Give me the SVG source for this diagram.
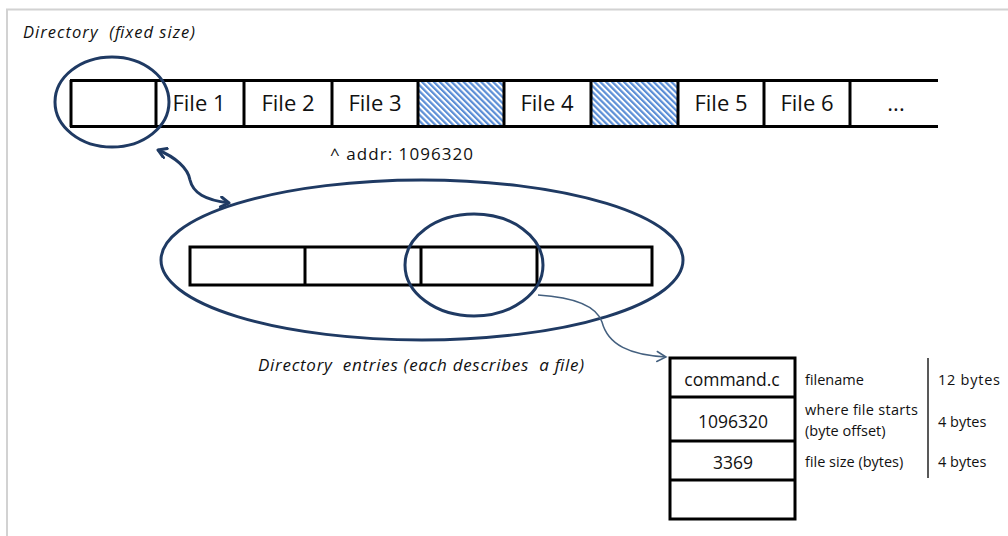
<svg xmlns="http://www.w3.org/2000/svg" width="1008" height="536" viewBox="0 0 1008 536">
<style>
.cal{font-family:"Open Sans","Liberation Sans",sans-serif;fill:#111;white-space:pre}
.it{font-style:italic}
.cell{fill:#fff;stroke:#000;stroke-width:3}
.ell{fill:none;stroke:#1f3a63;stroke-width:3}
</style>
<defs>
<pattern id="hatch" patternUnits="userSpaceOnUse" width="4.2" height="4.2" patternTransform="rotate(-45)">
<rect width="4.2" height="4.2" fill="#fff"/>
<rect width="2.2" height="4.2" fill="#5b8ed6"/>
</pattern>
<marker id="chevs" markerWidth="12" markerHeight="12" refX="10" refY="6" orient="auto-start-reverse" markerUnits="userSpaceOnUse">
<path d="M2,1 L10,6 L2,11" fill="none" stroke="#1f3a63" stroke-width="3" stroke-linecap="round" stroke-linejoin="round"/>
</marker>
<marker id="thin" markerWidth="14" markerHeight="14" refX="11" refY="7" orient="auto" markerUnits="userSpaceOnUse">
<path d="M2,2 L11,7 L2,12" fill="none" stroke="#44607f" stroke-width="1.5" stroke-linecap="round"/>
</marker>
</defs>
<rect x="0" y="0" width="1008" height="536" fill="#fff"/>
<path d="M7,540 V9.5 H1010" fill="none" stroke="#d2d2d2" stroke-width="2"/>

<text class="cal it" x="23" y="38" font-size="16.5" textLength="172" lengthAdjust="spacing" xml:space="preserve">Directory  (fixed size)</text>

<g id="directory">
<line x1="70" y1="80.5" x2="938" y2="80.5" stroke="#000" stroke-width="3"/>
<line x1="70" y1="126.5" x2="938" y2="126.5" stroke="#000" stroke-width="3"/>
<rect x="419" y="82" width="85" height="43" fill="url(#hatch)"/>
<rect x="592" y="82" width="86" height="43" fill="url(#hatch)"/>
<g stroke="#000" stroke-width="3">
<line x1="71" y1="80" x2="71" y2="127"/>
<line x1="156" y1="80" x2="156" y2="127"/>
<line x1="244" y1="80" x2="244" y2="127"/>
<line x1="332" y1="80" x2="332" y2="127"/>
<line x1="418" y1="80" x2="418" y2="127"/>
<line x1="504" y1="80" x2="504" y2="127"/>
<line x1="591" y1="80" x2="591" y2="127"/>
<line x1="678" y1="80" x2="678" y2="127"/>
<line x1="764" y1="80" x2="764" y2="127"/>
<line x1="850" y1="80" x2="850" y2="127"/>
</g>
<g class="cal" font-size="22" text-anchor="middle">
<text x="199" y="111">File 1</text>
<text x="288" y="111">File 2</text>
<text x="375" y="111">File 3</text>
<text x="547" y="111">File 4</text>
<text x="721" y="111">File 5</text>
<text x="807" y="111">File 6</text>
<text x="896" y="111">...</text>
</g>
</g>

<g id="dir-highlight">
<ellipse class="ell" cx="112" cy="102" rx="57" ry="45"/>
</g>

<text class="cal" x="330" y="160" font-size="17" textLength="143" lengthAdjust="spacing">^ addr: 1096320</text>

<g id="entries">
<ellipse class="ell" cx="422" cy="260" rx="261" ry="80"/>
<rect class="cell" x="190" y="247" width="462" height="38"/>
<g stroke="#000" stroke-width="3">
<line x1="305" y1="247" x2="305" y2="285"/>
<line x1="421" y1="247" x2="421" y2="285"/>
<line x1="537" y1="247" x2="537" y2="285"/>
</g>
<ellipse class="ell" cx="474" cy="265" rx="69" ry="51"/>
</g>

<text class="cal it" x="258" y="371" font-size="17" textLength="326" lengthAdjust="spacing" xml:space="preserve">Directory  entries (each describes  a file)</text>

<g id="entry-detail">
<rect class="cell" x="670" y="358" width="125" height="161"/>
<g stroke="#000" stroke-width="3">
<line x1="670" y1="397" x2="795" y2="397"/>
<line x1="670" y1="441" x2="795" y2="441"/>
<line x1="670" y1="480" x2="795" y2="480"/>
</g>
<g class="cal" font-size="17.5" text-anchor="middle">
<text x="732" y="386">command.c</text>
<text x="733" y="428">1096320</text>
<text x="733" y="469">3369</text>
</g>
<g class="cal" font-size="14.5">
<text x="805" y="385">filename</text>
<text x="805" y="415" textLength="113" lengthAdjust="spacing">where file starts</text>
<text x="805" y="436">(byte offset)</text>
<text x="805" y="467">file size (bytes)</text>
<text x="938" y="385" textLength="62" lengthAdjust="spacing">12 bytes</text>
<text x="938" y="427">4 bytes</text>
<text x="938" y="467">4 bytes</text>
</g>
<line x1="928" y1="358" x2="928" y2="478" stroke="#222" stroke-width="1.5"/>
</g>

<g id="connectors">
<path d="M158,150 C175,157 188,168 190,180 C193,193 205,200 229,203" fill="none" stroke="#1f3a63" stroke-width="3" marker-start="url(#chevs)" marker-end="url(#chevs)"/>
<path d="M538,295 C570,297 596,305 602,322 C608,345 630,355 666,357" fill="none" stroke="#44607f" stroke-width="1.5" marker-end="url(#thin)"/>
</g>
</svg>
